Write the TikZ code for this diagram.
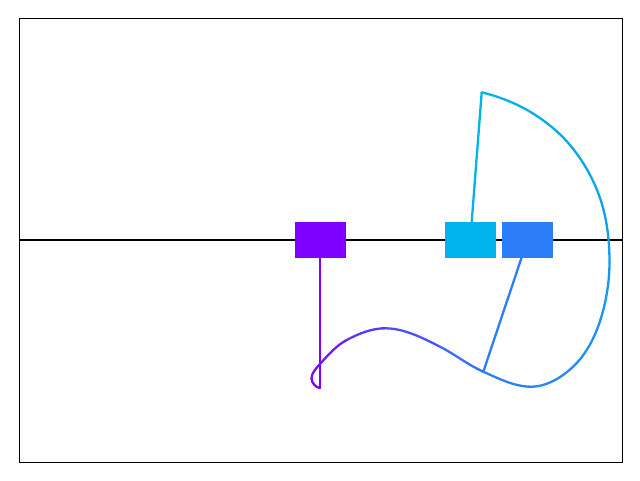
\documentclass[tikz,border=0pt]{standalone}
\usepackage{tikz}
\definecolor{cartA}{RGB}{127,0,255}
\definecolor{cartB}{RGB}{44,126,247}
\definecolor{cartC}{RGB}{0,180,235}
\begin{document}
\begin{tikzpicture}[x=1pt,y=1pt]
        \tikzstyle{every node}+=[inner sep=0pt]
        \tikzstyle{cart}=[minimum width=51pt, minimum height=36.6pt]
        \tikzstyle{pole}=[line width=2.3pt]
        \tikzstyle{traj}=[line width=2.3pt, line cap=round, looseness=0.85]
        \useasboundingbox (0,0) rectangle (640,-480);
        \draw [black, line width=1.1pt] (19.5,-18.5) rectangle (622.3,-462.3);
        \coordinate (railL) at (19.5,-240);
        \coordinate (railR) at (622.3,-240);
        \draw [black, line width=1.6pt] (railL) -- (railR);
        \coordinate (c1) at (320,-240);
        \coordinate (c2) at (527.5,-240);
        \coordinate (c3) at (470.3,-240);
        \coordinate (t1) at (320,-388);
        \coordinate (t2) at (483.3,-371.7);
        \coordinate (t3) at (481.7,-92.3);
        \draw [pole, cartA] (c1) -- (t1);
        \draw [pole, cartB] (c2) -- (t2);
        \draw [pole, cartC] (c3) -- (t3);
        \node [cart, fill=cartA] (k1) at (c1) {};
        \node [cart, fill=cartB] (k2) at (c2) {};
        \node [cart, fill=cartC] (k3) at (c3) {};
        \coordinate (p1) at (311.5,-378.5);
        \coordinate (p2) at (320,-364);
        \coordinate (r1) at (346.7,-340);
        \coordinate (p3) at (386.7,-328.3);
        \coordinate (r2) at (440,-346.7);
        \coordinate (q1) at (531,-386.7);
        \coordinate (q2) at (576.7,-363);
        \coordinate (q3) at (601,-318);
        \coordinate (q4) at (609.5,-262);
        \coordinate (q5) at (600,-198);
        \coordinate (q6) at (570,-145);
        \coordinate (q7) at (530,-111.7);
        \foreach \a/\b/\o/\i/\k in {t1/p1/175/270/3, p1/p2/90/228/10, p2/r1/48/208/22,
                r1/p3/28/178/41, p3/r2/-2/153/64, r2/t2/-27/156/88}
                \draw [traj, cartB!\k!cartA] (\a) to[out=\o, in=\i] (\b);
        \foreach \a/\b/\o/\i/\k in {t2/q1/-24/180/5, q1/q2/0/227/18, q2/q3/47/253/32,
                q3/q4/73/270/45, q4/q5/90/289/58, q5/q6/109/310/71,
                q6/q7/130/329/84, q7/t3/149/346/96}
                \draw [traj, cartC!\k!cartB] (\a) to[out=\o, in=\i] (\b);
\end{tikzpicture}
\end{document}
